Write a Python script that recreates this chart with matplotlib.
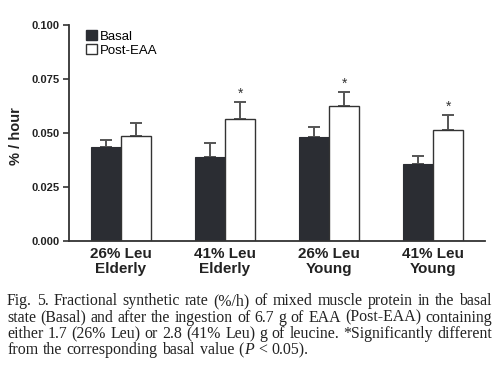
import numpy as np
import matplotlib
matplotlib.use("Agg")
import matplotlib.pyplot as plt
from matplotlib.patches import Patch

groups = ["26% Leu\nElderly", "41% Leu\nElderly", "26% Leu\nYoung", "41% Leu\nYoung"]
basal = [0.0435, 0.0387, 0.0480, 0.0356]
basal_err = [0.0033, 0.0068, 0.0049, 0.0036]
post = [0.0486, 0.0565, 0.0625, 0.0513]
post_err = [0.0062, 0.0080, 0.0066, 0.0069]
signif = [False, True, True, True]
yticks = [0.000, 0.025, 0.050, 0.075, 0.100]

caption_lines = [
    "Fig. 5. Fractional synthetic rate (%/h) of mixed muscle protein in the basal",
    "state (Basal) and after the ingestion of 6.7 g of EAA (Post-EAA) containing",
    "either 1.7 (26% Leu) or 2.8 (41% Leu) g of leucine. *Significantly different",
    "from the corresponding basal value (P < 0.05).",
]

W, H = 500, 368
fig = plt.figure(figsize=(W / 100, H / 100), dpi=100)
ax = fig.add_axes([69 / W, 1 - 241 / H, 416 / W, 216 / H])

dark = "#2b2d33"
edge = "#333333"
x = np.arange(len(groups))
w = 0.29

ax.bar(x - w / 2, basal, w, color=dark, edgecolor=dark, linewidth=0.8, zorder=2)
ax.bar(x + w / 2, post, w, color="white", edgecolor=edge, linewidth=1.0, zorder=2)
ax.errorbar(x - w / 2, basal, yerr=[np.zeros(4), basal_err], fmt="none",
            ecolor="#555555", elinewidth=1.4, capsize=4, capthick=1.4, zorder=1)
ax.errorbar(x + w / 2, post, yerr=[np.zeros(4), post_err], fmt="none",
            ecolor="#555555", elinewidth=1.4, capsize=4, capthick=1.4, zorder=1)

for i, s in enumerate(signif):
    if s:
        ax.annotate("*", (x[i] + w / 2, post[i] + post_err[i]), xytext=(0, 1),
                    textcoords="offset points", ha="center", va="bottom",
                    fontsize=10, color="#333333", family="Liberation Sans")

ax.set_xlim(-0.5, 3.5)
ax.set_ylim(0, 0.100)
ax.set_yticks(yticks)
ax.set_yticklabels(["%.3f" % v for v in yticks], fontsize=8, fontweight="bold",
                   family="Liberation Sans", color="#222222")
ax.set_xticks(x)
ax.set_xticklabels(groups, fontsize=11, fontweight="bold", family="Liberation Sans",
                   color="#222222", linespacing=1.1)
ax.tick_params(axis="x", length=0, pad=4)
ax.tick_params(axis="y", length=4, width=1.2, color=edge, pad=3)
for sp in ["top", "right"]:
    ax.spines[sp].set_visible(False)
for sp in ["left", "bottom"]:
    ax.spines[sp].set_color(edge)
    ax.spines[sp].set_linewidth(1.3)

fig.text(16 / W, 1 - 136 / H, "% / hour", rotation=90, ha="center", va="center",
         fontsize=10.5, fontweight="bold", family="Liberation Sans", color="#222222")

handles = [Patch(facecolor=dark, edgecolor=dark), Patch(facecolor="white", edgecolor=edge)]
leg = ax.legend(handles, ["Basal", "Post-EAA"], loc="upper left",
                bbox_to_anchor=(12 / 416, 1.0), frameon=False, handlelength=0.8,
                handleheight=0.8, handletextpad=0.2, labelspacing=0.1,
                borderaxespad=0, prop={"family": "Liberation Sans", "size": 9.5})

# caption, justified word by word
fig.canvas.draw()
renderer = fig.canvas.get_renderer()
left, right = 7, 492
baselines = [305, 321.5, 338, 354.5]
cap_kw = dict(family="Liberation Serif", fontsize=11.4, color="#222222", va="baseline")

probe1 = fig.text(0, 0, "a a", **cap_kw)
probe2 = fig.text(0, 0, "aa", **cap_kw)
space = probe1.get_window_extent(renderer).width - probe2.get_window_extent(renderer).width
probe1.remove()
probe2.remove()

for li, line in enumerate(caption_lines):
    words = line.split(" ")
    ypix = H - baselines[li]
    texts = []
    for wd in words:
        if wd == "(P":
            t1 = fig.text(0, ypix / H, "(", **cap_kw)
            t2 = fig.text(0, ypix / H, "P", style="italic", **cap_kw)
            texts.append([t1, t2])
        else:
            texts.append([fig.text(0, ypix / H, wd, **cap_kw)])
    widths = []
    for parts in texts:
        widths.append([p.get_window_extent(renderer).width for p in parts])
    total = sum(sum(ws) for ws in widths)
    if li < len(caption_lines) - 1:
        gap = (right - left - total) / (len(words) - 1)
    else:
        gap = space * 1.15
    xp = left
    for parts, ws in zip(texts, widths):
        for p, wpx in zip(parts, ws):
            p.set_x(xp / W)
            xp += wpx
        xp += gap

fig.savefig("out.png", dpi=100)
